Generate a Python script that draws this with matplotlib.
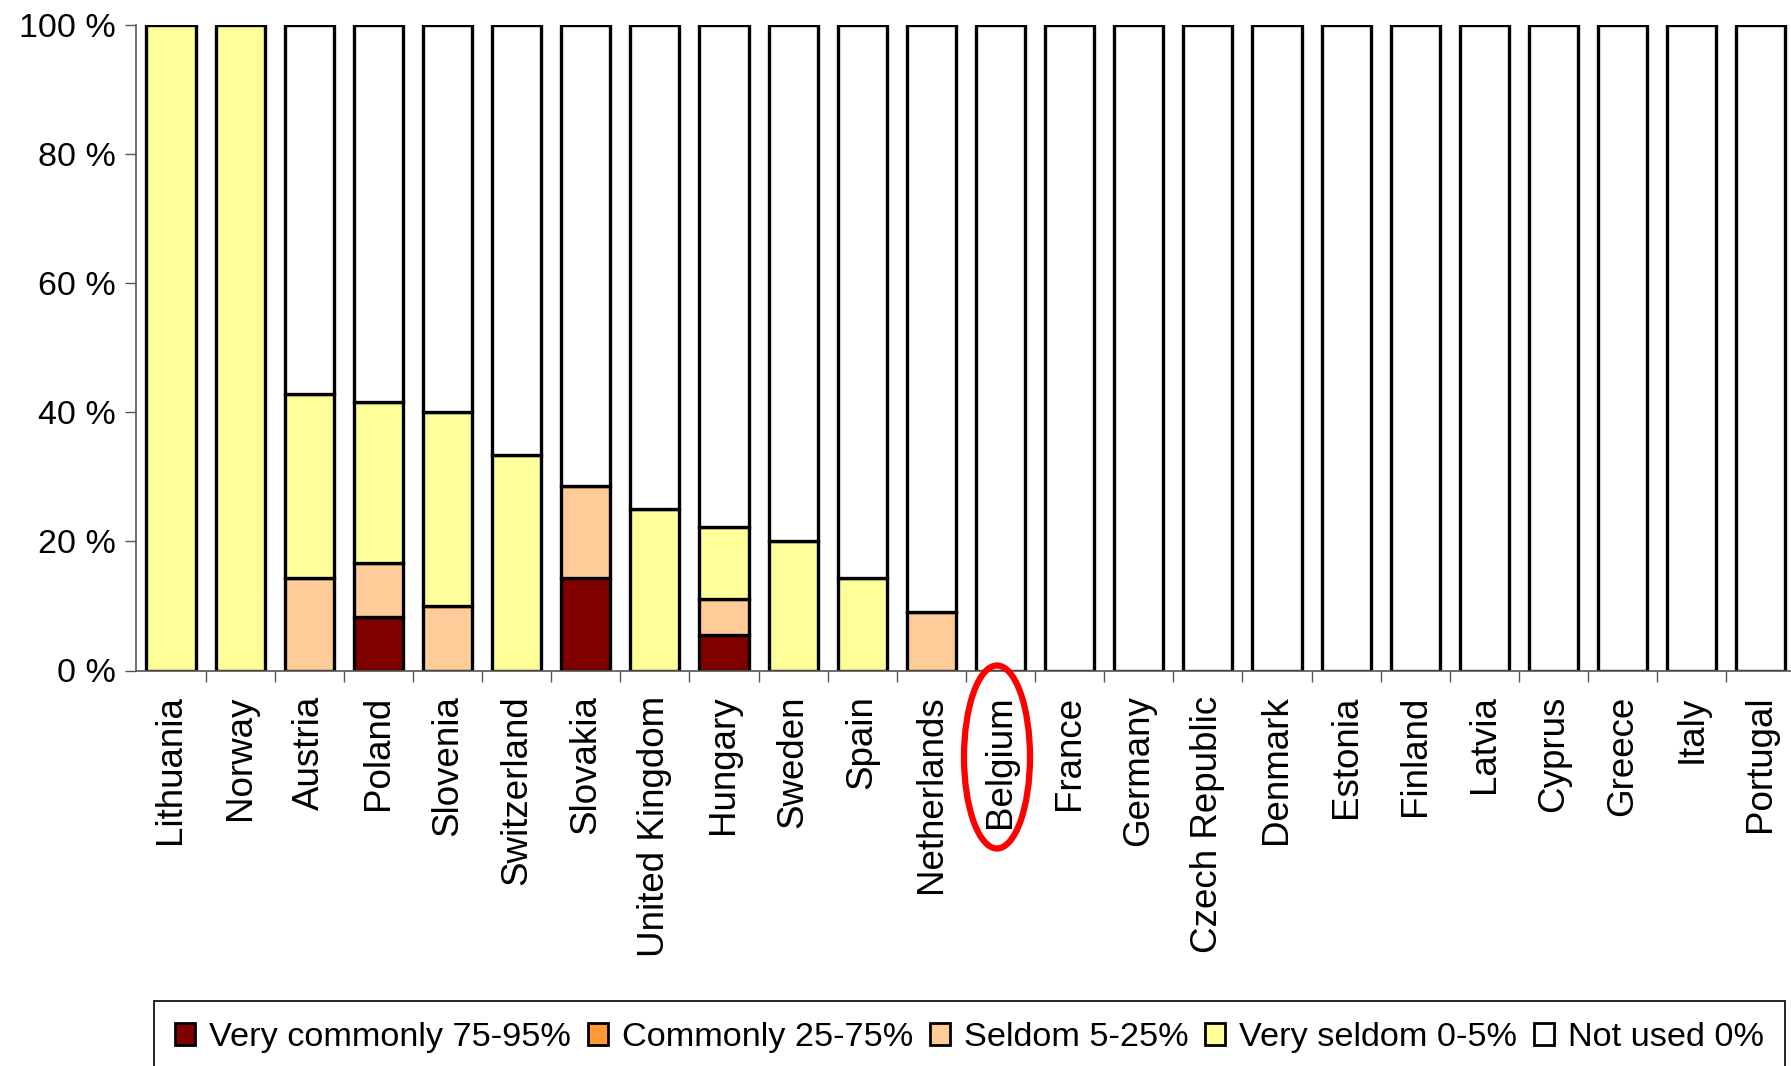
import numpy as np
import matplotlib.pyplot as plt
from matplotlib.patches import Patch, Ellipse

countries = ["Lithuania", "Norway", "Austria", "Poland", "Slovenia", "Switzerland",
             "Slovakia", "United Kingdom", "Hungary", "Sweden", "Spain", "Netherlands",
             "Belgium", "France", "Germany", "Czech Republic", "Denmark", "Estonia",
             "Finland", "Latvia", "Cyprus", "Greece", "Italy", "Portugal"]

# shares in percent
very_commonly = [0, 0, 0, 8.33, 0, 0, 14.29, 0, 5.56, 0, 0, 0] + [0] * 12
commonly = [0] * 24
seldom = [0, 0, 14.29, 8.33, 10, 0, 14.29, 0, 5.56, 0, 0, 9.09] + [0] * 12
very_seldom = [100, 100, 28.57, 25, 30, 33.33, 0, 25, 11.11, 20, 14.29, 0] + [0] * 12

series_names = ["Very commonly 75-95%", "Commonly 25-75%", "Seldom 5-25%",
                "Very seldom 0-5%", "Not used 0%"]
colors = ["#800000", "#FF9933", "#FFCC99", "#FFFF99", "#FFFFFF"]

plt.rcParams['font.family'] = ['Liberation Sans', 'DejaVu Sans']

fig = plt.figure(figsize=(17.91, 10.66), dpi=100)
ax = fig.add_axes([136.4 / 1791, 1 - 670.5 / 1066, 1659 / 1791, 645.5 / 1066])

x = np.arange(len(countries))
vc = np.array(very_commonly)
c = np.array(commonly)
s = np.array(seldom)
vs = np.array(very_seldom)
not_used = 100 - vc - c - s - vs

bottom = np.zeros(len(countries))
for vals, col in zip([vc, c, s, vs, not_used], colors):
    mask = vals > 0
    ax.bar(x[mask], vals[mask], bottom=bottom[mask], width=0.71, color=col,
           edgecolor="black", linewidth=2.4)
    bottom += vals

ax.set_xlim(-0.5, len(countries) - 0.5)
ax.set_ylim(0, 100)
ax.set_yticks(np.arange(0, 101, 20))
ax.set_yticklabels([f"{v} %" for v in range(0, 101, 20)], fontsize=24.5)
ax.tick_params(axis='y', length=8, width=1, color="#555555", pad=7)

ax.set_xticks(x)
ax.set_xticklabels(countries, rotation=90, fontsize=26.5)
ax.tick_params(axis='x', which='major', length=0, pad=18)
ax.set_xticks(x[:-1] + 0.5, minor=True)
ax.tick_params(axis='x', which='minor', length=8, width=1, color="#555555")

for sp in ["top", "right"]:
    ax.spines[sp].set_visible(False)
for sp in ["left", "bottom"]:
    ax.spines[sp].set_color("#555555")
    ax.spines[sp].set_linewidth(1.2)

# red circle round Belgium
fig.patches.append(Ellipse((997 / 1791, 1 - 757 / 1066), 66 / 1791, 183 / 1066,
                           transform=fig.transFigure, fill=False,
                           edgecolor="#FF0000", linewidth=4.5))

handles = [Patch(facecolor=col, edgecolor="black", linewidth=2) for col in colors]
leg = fig.legend(handles, series_names, loc="upper left",
                 bbox_to_anchor=(154 / 1791, 1 - 1001 / 1066), ncol=5,
                 prop={'size': 24.7},
                 handlelength=0.58, handleheight=0.58, handletextpad=0.4,
                 columnspacing=0.5, borderpad=0.62, borderaxespad=0,
                 fancybox=False, edgecolor="black", framealpha=1)
leg.get_frame().set_linewidth(1.2)

fig.savefig("out.png", dpi=100)
